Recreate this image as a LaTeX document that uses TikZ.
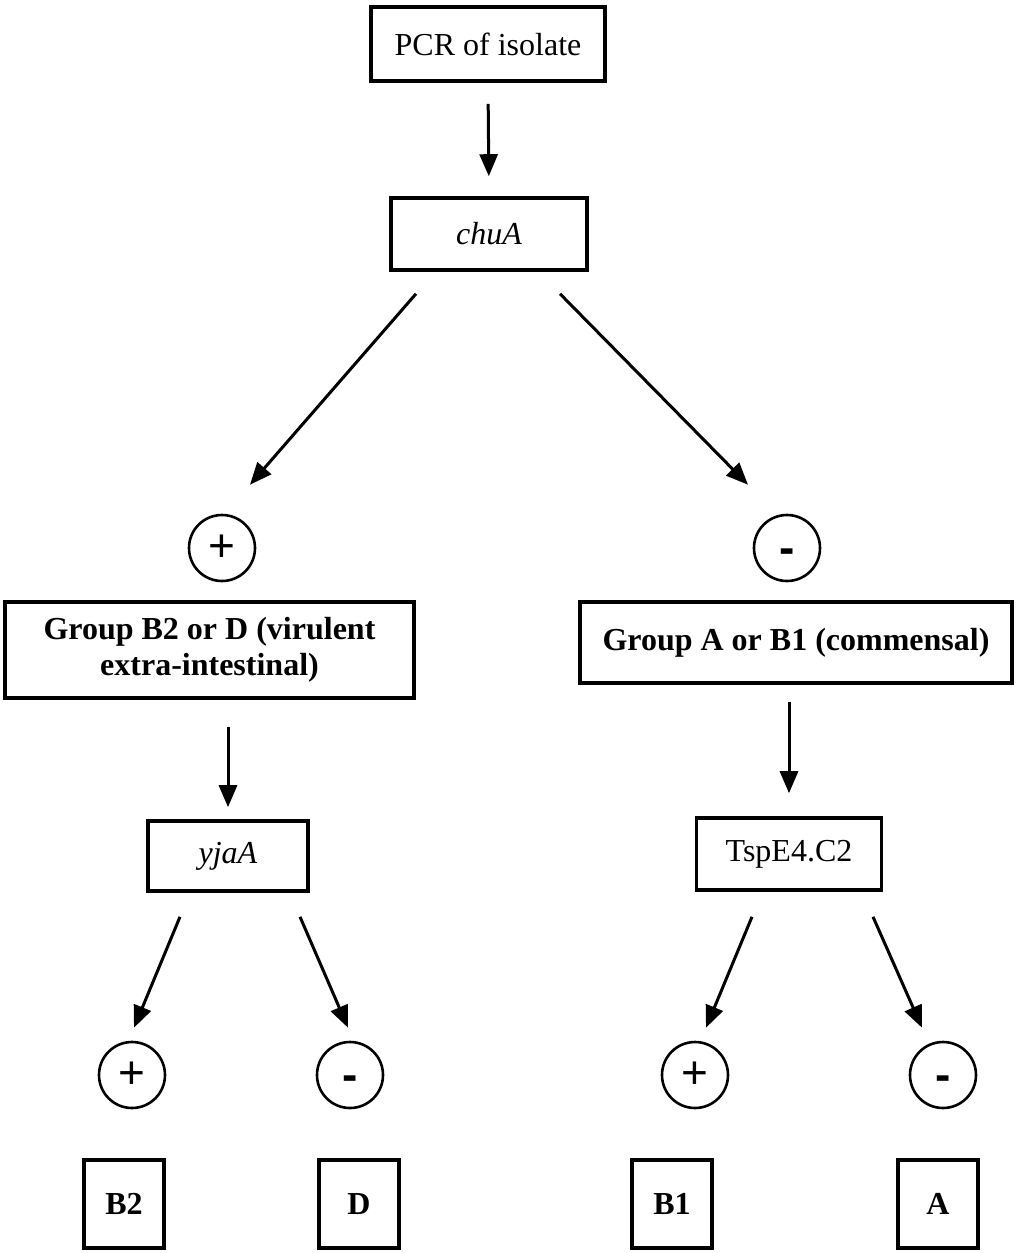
\documentclass[tikz,border=0pt]{standalone}
\usepackage{fontspec}
\setmainfont{Liberation Serif}
\newfontfamily\signfont{Liberation Sans}
\usepackage{tikz}
\usetikzlibrary{positioning,arrows.meta}

\begin{document}
\begin{tikzpicture}[x=1pt,y=-1pt,
        testbox/.style={draw, line width=3.6pt, rectangle, inner sep=0pt, align=center, font=\fontsize{32}{36}\selectfont},
        sign/.style={draw, line width=2.6pt, circle, minimum size=66pt, inner sep=0pt, font=\signfont\fontsize{46}{46}\selectfont},
        minus/.style={sign, text height=30pt, text depth=0pt},
        arr/.style={line width=3pt, -{Triangle[length=22pt,width=18pt]}}
    ]
        \useasboundingbox (0,0) rectangle (1015,1253);

        % Top of the scheme
        \node[testbox, minimum width=234pt, minimum height=74pt] (pcr) at (488,44) {PCR of isolate};
        \node[testbox, minimum width=196pt, minimum height=72pt] (chua) at (489,234) {\textit{chuA}};
        \draw[arr, shorten <=21pt, shorten >=20pt] (pcr.south) -- (chua.north);

        % --- chuA result ---
        \node[sign] (pos1) at (222,548) {+};
        \node[minus] (neg1) at (787,548) {\bfseries -};
        \draw[arr] ([xshift=-73pt,yshift=-22pt]chua.south) -- ([xshift=28pt,yshift=29pt]pos1.north);
        \draw[arr] ([xshift=71pt,yshift=-22pt]chua.south) -- ([xshift=-39pt,yshift=29pt]neg1.north);

        \node[testbox, font=\bfseries\fontsize{32}{36}\selectfont, minimum width=409pt, minimum height=96pt] (grpbd) at (209.5,650) {Group B2 or D (virulent\\extra-intestinal)};
        \node[testbox, font=\bfseries\fontsize{32}{36}\selectfont, minimum width=432pt, minimum height=81pt] (grpab) at (796,642.5) {Group A or B1 (commensal)};

        % --- second tests ---
        \node[testbox, minimum width=160pt, minimum height=70pt] (yjaa) at (228,856) {\textit{yjaA}};
        \node[testbox, minimum width=185pt, minimum height=72pt] (tspe) at (789,854) {TspE4.C2};
        \draw[arr, shorten <=27pt, shorten >=12pt] (yjaa.north |- grpbd.south) -- (yjaa.north);
        \draw[arr, shorten <=17pt, shorten >=23pt] (tspe.north |- grpab.south) -- (tspe.north);

        % --- yjaA and TspE4.C2 results ---
        \node[sign] (pos2) at (132,1075) {+};
        \node[minus] (neg2) at (350,1075) {\bfseries -};
        \node[sign] (pos3) at (695,1075) {+};
        \node[minus] (neg3) at (943,1075) {\bfseries -};
        \draw[arr] ([xshift=-48pt,yshift=-24pt]yjaa.south) -- ([xshift=2pt,yshift=13pt]pos2.north);
        \draw[arr] ([xshift=72pt,yshift=-24pt]yjaa.south) -- ([xshift=-2pt,yshift=13pt]neg2.north);
        \draw[arr] ([xshift=-37pt,yshift=-25pt]tspe.south) -- ([xshift=11pt,yshift=13pt]pos3.north);
        \draw[arr] ([xshift=84pt,yshift=-25pt]tspe.south) -- ([xshift=-21pt,yshift=13pt]neg3.north);

        % --- phylogenetic groups ---
        \node[testbox, font=\bfseries\fontsize{32}{36}\selectfont, minimum width=80pt, minimum height=88pt] (b2) at (124,1204) {B2};
        \node[testbox, font=\bfseries\fontsize{32}{36}\selectfont, minimum width=80pt, minimum height=88pt] (d) at (359,1204) {D};
        \node[testbox, font=\bfseries\fontsize{32}{36}\selectfont, minimum width=80pt, minimum height=88pt] (b1) at (672,1204) {B1};
        \node[testbox, font=\bfseries\fontsize{32}{36}\selectfont, minimum width=80pt, minimum height=88pt] (a) at (938,1204) {A};
    \end{tikzpicture}
\end{document}
